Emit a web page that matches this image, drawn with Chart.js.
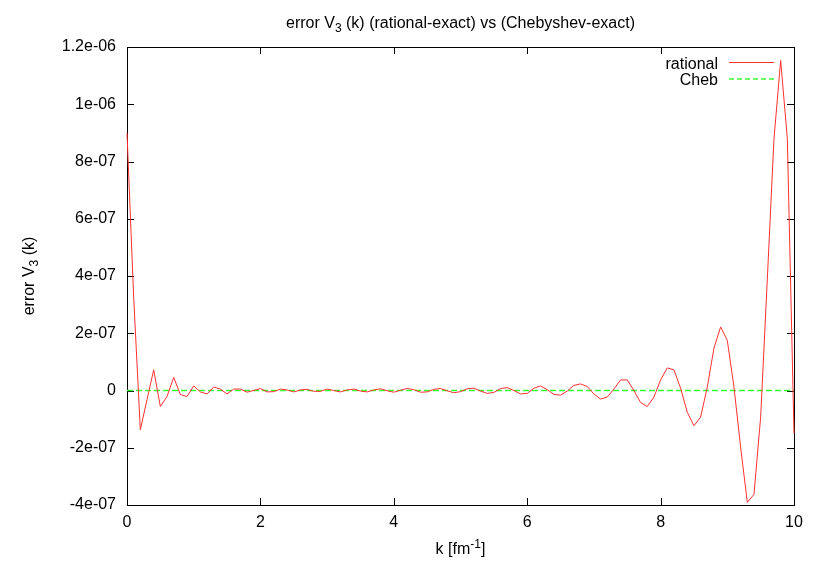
<!DOCTYPE html>
<html>
<head>
<meta charset="utf-8">
<script src="https://cdn.jsdelivr.net/npm/chart.js@4.4.1/dist/chart.umd.min.js"></script>
<style>
  html, body { margin: 0; padding: 0; background: #fff; }
  #wrap { width: 817px; height: 572px; }
</style>
</head>
<body>
<div id="wrap"><canvas id="errChart" width="817" height="572"></canvas></div>
<script>
// k grid [fm^-1]
const kValues = [
  0.0, 0.1, 0.2, 0.3, 0.4, 0.5, 0.6, 0.7, 0.8, 0.9,
  1.0, 1.1, 1.2, 1.3, 1.4, 1.5, 1.6, 1.7, 1.8, 1.9,
  2.0, 2.1, 2.2, 2.3, 2.4, 2.5, 2.6, 2.7, 2.8, 2.9,
  3.0, 3.1, 3.2, 3.3, 3.4, 3.5, 3.6, 3.7, 3.8, 3.9,
  4.0, 4.1, 4.2, 4.3, 4.4, 4.5, 4.6, 4.7, 4.8, 4.9,
  5.0, 5.1, 5.2, 5.3, 5.4, 5.5, 5.6, 5.7, 5.8, 5.9,
  6.0, 6.1, 6.2, 6.3, 6.4, 6.5, 6.6, 6.7, 6.8, 6.9,
  7.0, 7.1, 7.2, 7.3, 7.4, 7.5, 7.6, 7.7, 7.8, 7.9,
  8.0, 8.1, 8.2, 8.3, 8.4, 8.5, 8.6, 8.7, 8.8, 8.9,
  9.0, 9.1, 9.2, 9.3, 9.4, 9.5, 9.6, 9.7, 9.8, 9.9,
  10.0
];

// rational - exact
const rationalErr = [
  900e-9, 326e-9, -137e-9, -32e-9, 72e-9, -56e-9, -21e-9, 46e-9, -14e-9, -21e-9,
  16e-9, -5e-9, -12e-9, 12e-9, 5e-9, -12e-9, 5e-9, 5e-9, -6e-9, 0,
  7e-9, -5e-9, -4e-9, 5e-9, 2e-9, -5e-9, 2e-9, 4e-9, -3e-9, -3e-9,
  5e-9, 0, -5e-9, 2e-9, 5e-9, -2e-9, -5e-9, 2e-9, 6e-9, -1e-9,
  -6e-9, 1e-9, 7e-9, 3e-9, -6e-9, -5e-9, 4e-9, 7e-9, -1e-9, -8e-9,
  -4e-9, 6e-9, 8e-9, -2e-9, -10e-9, -7e-9, 7e-9, 10e-9, 0, -12e-9,
  -10e-9, 8e-9, 16e-9, 3e-9, -14e-9, -16e-9, -2e-9, 18e-9, 23e-9, 14e-9,
  -12e-9, -30e-9, -23e-9, 5e-9, 37e-9, 37e-9, 0, -42e-9, -56e-9, -23e-9,
  37e-9, 79e-9, 72e-9, 8e-9, -76e-9, -123e-9, -93e-9, 12e-9, 148e-9, 222e-9,
  175e-9, 12e-9, -198e-9, -391e-9, -363e-9, -93e-9, 390e-9, 880e-9, 1153e-9, 880e-9,
  -150e-9
];

// Chebyshev - exact
const chebErr = [
  0, 0, 0, 0, 0, 0, 0, 0, 0, 0,
  0, 0, 0, 0, 0, 0, 0, 0, 0, 0,
  0, 0, 0, 0, 0, 0, 0, 0, 0, 0,
  0, 0, 0, 0, 0, 0, 0, 0, 0, 0,
  0, 0, 0, 0, 0, 0, 0, 0, 0, 0,
  0, 0, 0, 0, 0, 0, 0, 0, 0, 0,
  0, 0, 0, 0, 0, 0, 0, 0, 0, 0,
  0, 0, 0, 0, 0, 0, 0, 0, 0, 0,
  0, 0, 0, 0, 0, 0, 0, 0, 0, 0,
  0, 0, 0, 0, 0, 0, 0, 0, 0, 0,
  0
];

const xTickLabels = ['0', '2', '4', '6', '8', '10'];
const yTickLabels = ['-4e-07', '-2e-07', '0', '2e-07', '4e-07', '6e-07', '8e-07', '1e-06', '1.2e-06'];
const legendLabels = ['rational', 'Cheb'];
const lineColors = ['#ff3030', '#33ff33'];

const FONT = '16px "Liberation Sans", Arial, Helvetica, sans-serif';
const SMALL = '12px "Liberation Sans", Arial, Helvetica, sans-serif';

// text pieces: [string, shift] ; shift 0 normal, 1 subscript, -1 superscript
function drawRich(ctx, parts, x, y, align) {
  let total = 0;
  parts.forEach(p => {
    ctx.font = p[1] ? SMALL : FONT;
    total += ctx.measureText(p[0]).width;
  });
  let cx = align === 'center' ? x - total / 2 : x;
  parts.forEach(p => {
    ctx.font = p[1] ? SMALL : FONT;
    const dy = p[1] === 1 ? 4 : (p[1] === -1 ? -6 : 0);
    ctx.fillText(p[0], cx, y + dy);
    cx += ctx.measureText(p[0]).width;
  });
}

const gnuplotFrame = {
  id: 'gnuplotFrame',
  // border + inward ticks go under the curves, like gnuplot
  beforeDatasetsDraw(chart) {
    const ctx = chart.ctx;
    const a = chart.chartArea;
    const xs = chart.scales.x, ys = chart.scales.y;
    ctx.save();
    ctx.strokeStyle = '#000';
    ctx.lineWidth = 1;
    ctx.strokeRect(Math.round(a.left) + 0.5, Math.round(a.top) + 0.5,
      Math.round(a.right - a.left), Math.round(a.bottom - a.top));

    const tl = 7;
    ctx.beginPath();
    xs.ticks.forEach(t => {
      const px = Math.round(xs.getPixelForValue(t.value)) + 0.5;
      ctx.moveTo(px, a.bottom); ctx.lineTo(px, a.bottom - tl);
      ctx.moveTo(px, a.top); ctx.lineTo(px, a.top + tl);
    });
    ys.ticks.forEach(t => {
      const py = Math.round(ys.getPixelForValue(t.value)) + 0.5;
      ctx.moveTo(a.left, py); ctx.lineTo(a.left + tl, py);
      ctx.moveTo(a.right, py); ctx.lineTo(a.right - tl, py);
    });
    ctx.stroke();
    ctx.restore();
  },
  afterDraw(chart) {
    const ctx = chart.ctx;
    const a = chart.chartArea;
    ctx.save();
    ctx.fillStyle = '#000';
    ctx.textBaseline = 'alphabetic';
    ctx.textAlign = 'left';
    const midX = (a.left + a.right) / 2;

    // title
    drawRich(ctx, [['error V', 0], ['3', 1], [' (k) (rational-exact) vs (Chebyshev-exact)', 0]], midX, 28, 'center');

    // x label
    drawRich(ctx, [['k [fm', 0], ['-1', -1], [']', 0]], midX, 554, 'center');

    // y label
    ctx.save();
    ctx.translate(34, (a.top + a.bottom) / 2);
    ctx.rotate(-Math.PI / 2);
    drawRich(ctx, [['error V', 0], ['3', 1], [' (k)', 0]], 0, 0, 'center');
    ctx.restore();

    // key
    ctx.font = FONT;
    ctx.textAlign = 'right';
    const rows = [62.5, 79];
    const dashes = [[], [5, 3]];
    const widths = [1, 1.5];
    legendLabels.forEach((lab, i) => {
      ctx.fillStyle = '#000';
      ctx.fillText(lab, 718, Math.round(rows[i]) + 5.5);
      ctx.strokeStyle = lineColors[i];
      ctx.lineWidth = widths[i];
      ctx.setLineDash(dashes[i]);
      ctx.beginPath();
      ctx.moveTo(729, rows[i]);
      ctx.lineTo(774, rows[i]);
      ctx.stroke();
    });
    ctx.setLineDash([]);
    ctx.restore();
  }
};

const ctxErr = document.getElementById('errChart');

window.errChart = new Chart(ctxErr, {
  type: 'line',
  data: {
    datasets: [{
      label: legendLabels[0],
      data: kValues.map((k, i) => ({ x: k, y: rationalErr[i] })),
      borderColor: lineColors[0],
      borderWidth: 1,
      pointRadius: 0,
      fill: false,
      tension: 0,
      clip: 2
    }, {
      label: legendLabels[1],
      data: kValues.map((k, i) => ({ x: k, y: chebErr[i] })),
      borderColor: lineColors[1],
      borderWidth: 1.3,
      borderDash: [6, 3],
      pointRadius: 0,
      fill: false,
      tension: 0
    }]
  },
  options: {
    responsive: false,
    animation: false,
    devicePixelRatio: 1,
    layout: { padding: { left: 0, right: 23, top: 47, bottom: 0 } },
    plugins: {
      legend: { display: false },
      title: { display: false },
      tooltip: { enabled: false }
    },
    scales: {
      x: {
        type: 'linear',
        min: 0,
        max: 10,
        afterFit: s => { s.height = 67; },
        grid: { display: false, drawTicks: false },
        border: { display: false },
        ticks: {
          stepSize: 2,
          padding: 8,
          maxRotation: 0,
          color: '#000',
          font: { family: '"Liberation Sans", Arial, sans-serif', size: 16 },
          callback: (v, i) => xTickLabels[i]
        }
      },
      y: {
        type: 'linear',
        min: -4e-7,
        max: 1.2e-6,
        afterFit: s => { s.width = 127; },
        grid: { display: false, drawTicks: false },
        border: { display: false },
        ticks: {
          stepSize: 2e-7,
          padding: 11,
          color: '#000',
          font: { family: '"Liberation Sans", Arial, sans-serif', size: 16 },
          callback: (v, i) => yTickLabels[i]
        }
      }
    }
  },
  plugins: [gnuplotFrame]
});
</script>
</body>
</html>
